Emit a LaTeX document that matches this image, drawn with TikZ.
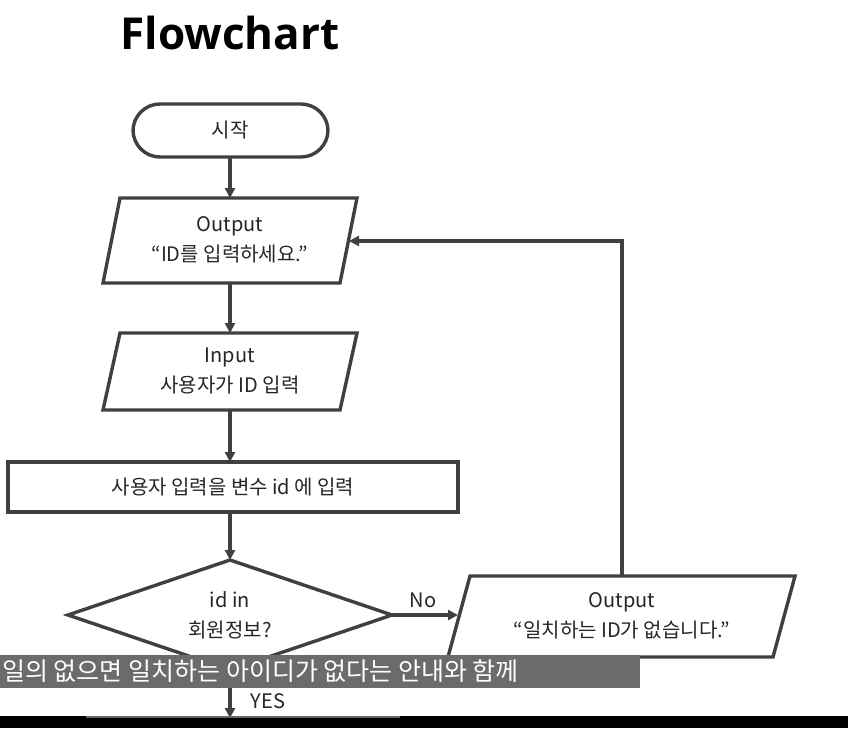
\documentclass[tikz,border=0pt]{standalone}
\usepackage{fontspec}
\setmainfont{Noto Sans CJK KR}
\newfontfamily\titlefont{Open Sans}
\usetikzlibrary{arrows.meta}
\begin{document}
\begin{tikzpicture}[x=1pt,y=-1pt,
  ln/.style={draw=black!75,line width=3.4pt},
  arr/.style={ln,-{Triangle[length=10pt,width=10pt]}},
  txt/.style={font=\fontsize{20}{30}\selectfont,align=center,text=black!85}]
\useasboundingbox (0,0) rectangle (848,728);
\fill[white] (0,0) rectangle (848,728);
\node[font=\titlefont\bfseries\fontsize{44}{48}\selectfont] (title) at (230,33) {Flowchart};
% start
\draw[ln,rounded corners=27pt] (133,104) rectangle (328,157);
\node[txt] (start) at (230,130) {시작};
% output1
\draw[ln] (120,198) -- (357,198) -- (340,283) -- (103,283) -- cycle;
\node[txt] (out1) at (230,240) {Output\\“ID를 입력하세요.”};
% input
\draw[ln] (120,333) -- (357,333) -- (340,410) -- (103,410) -- cycle;
\node[txt] (in1) at (230,371) {Input\\사용자가 ID 입력};
% process
\draw[ln] (8,462) rectangle (458,512);
\node[txt] (proc) at (233,487) {사용자 입력을 변수 id 에 입력};
% diamond
\draw[ln] (230,560) -- (392,615) -- (230,670) -- (68,615) -- cycle;
\node[txt] (dec) at (230,615) {id in\\회원정보?};
% output2
\draw[ln] (470,576) -- (795,576) -- (773,657) -- (448,657) -- cycle;
\node[txt] (out2) at (622,616) {Output\\“일치하는 ID가 없습니다.”};
% connectors
\coordinate (a1) at (230,157); \coordinate (a2) at (230,198);
\draw[arr] (a1) -- (a2);
\coordinate (b1) at (230,283); \coordinate (b2) at (230,333);
\draw[arr] (b1) -- (b2);
\coordinate (c1) at (230,410); \coordinate (c2) at (230,462);
\draw[arr] (c1) -- (c2);
\coordinate (d1) at (230,512); \coordinate (d2) at (230,560);
\draw[arr] (d1) -- (d2);
\coordinate (e1) at (392,615); \coordinate (e2) at (458,615);
\draw[arr] (e1) -- (e2);
\node[txt] (no) at (423,600) {No};
\coordinate (f1) at (622,576); \coordinate (f2) at (349,241);
\draw[arr] (f1) |- (f2);
\coordinate (g1) at (230,670); \coordinate (g2) at (230,718);
\draw[arr] (g1) -- (g2);
\node[txt] (yes) at (268,701) {YES};
% subtitle
\fill[black!58] (0,655) rectangle (640,688);
\node[font=\fontsize{25}{26}\selectfont,text=white,anchor=west,inner sep=0pt] (sub) at (2,671) {일의 없으면 일치하는 아이디가 없다는 안내와 함께};
% bottom
\fill[black] (0,716) rectangle (848,728);
\draw[black!60,line width=2pt] (86,717) -- (400,717);
\end{tikzpicture}
\end{document}
